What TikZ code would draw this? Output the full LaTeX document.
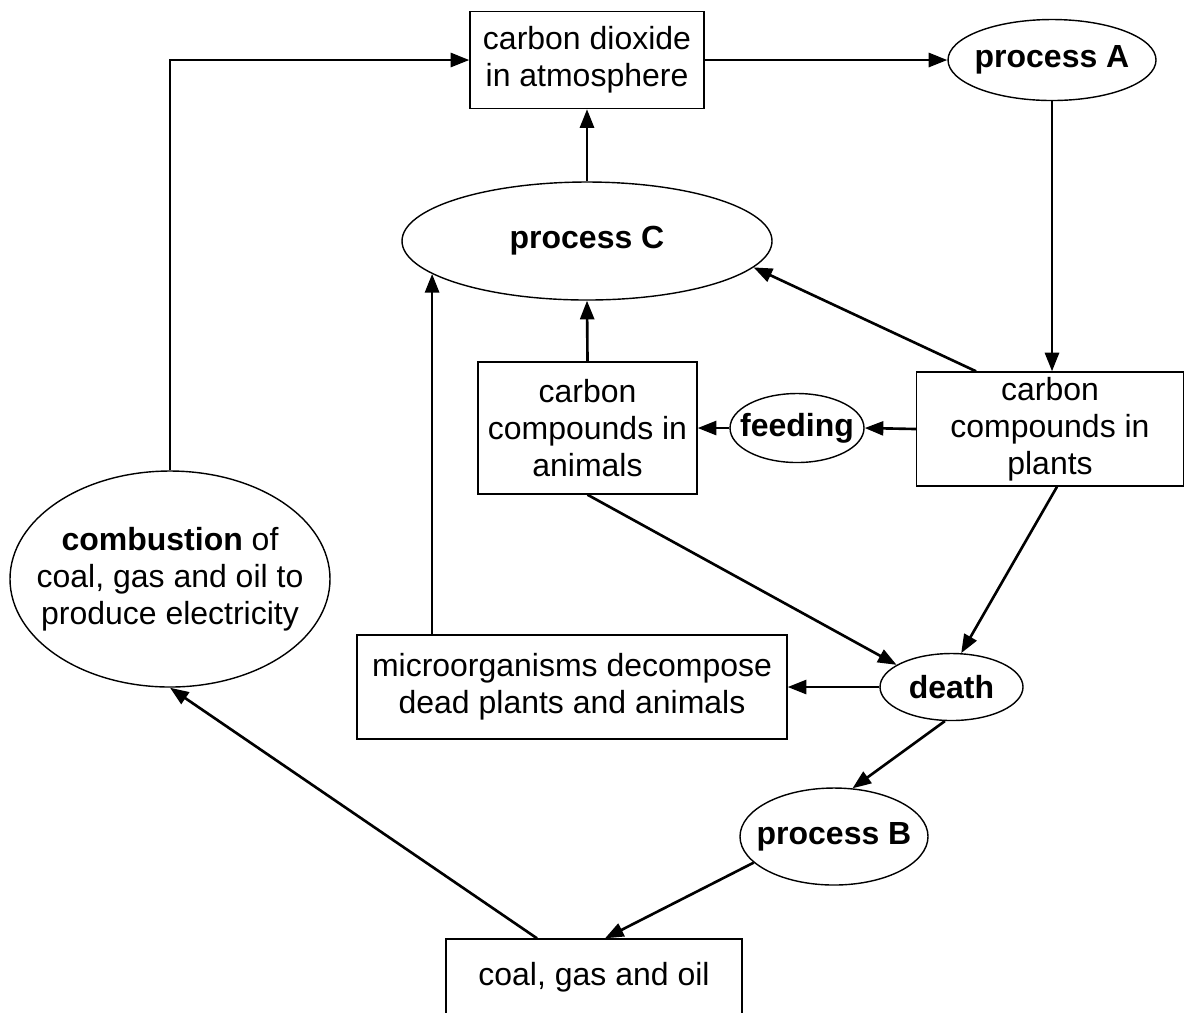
\documentclass[tikz,border=0pt]{standalone}
\usepackage{fontspec}
\setmainfont{Liberation Sans}
\usetikzlibrary{arrows.meta,shapes.geometric}

\begin{document}
\begin{tikzpicture}[
	box/.style={draw, line width=0.4pt, rectangle, inner sep=0pt, align=center},
	oval/.style={draw, line width=0.4pt, ellipse, inner sep=-0.6cm, align=center},
	arr/.style={line width=0.75pt, -{Triangle[length=5.3pt,width=4pt]}},
	font=\fontsize{9.1}{10.5}\selectfont
]
\useasboundingbox (0,0) rectangle (11.84,-10.12);
\node[box, minimum width=2.34cm, minimum height=0.97cm](co2) at (5.87,-0.6) {carbon dioxide\\in atmosphere};
\node[oval, minimum width=2.08cm, minimum height=0.81cm](procA) at (10.52,-0.6) {\textbf{process A}};
\node[oval, minimum width=3.70cm, minimum height=1.18cm](procC) at (5.87,-2.41) {\textbf{process C}};
\node[box, minimum width=2.19cm, minimum height=1.32cm](animals) at (5.875,-4.28) {carbon\\compounds in\\animals};
\node[oval, minimum width=1.34cm, minimum height=0.69cm](feeding) at (7.97,-4.28) {\textbf{feeding}};
\node[box, minimum width=2.665cm, minimum height=1.14cm](plants) at (10.50,-4.29) {carbon\\compounds in\\plants};
\node[oval, minimum width=3.20cm, minimum height=2.16cm](comb) at (1.70,-5.79) {\textbf{combustion} of\\coal, gas and oil to\\produce electricity};
\node[box, minimum width=4.30cm, minimum height=1.04cm](micro) at (5.72,-6.87) {microorganisms decompose\\dead plants and animals};
\node[oval, minimum width=1.43cm, minimum height=0.67cm](death) at (9.515,-6.87) {\textbf{death}};
\node[oval, minimum width=1.88cm, minimum height=0.97cm](procB) at (8.34,-8.365) {\textbf{process B}};
\node[box, minimum width=2.96cm, minimum height=0.76cm](coal) at (5.94,-9.77) {coal, gas and oil};

\draw[arr] (comb.north) |- (co2.west);
\draw[arr] (co2.east) -- (procA.west);
\draw[arr] (procA.south) -- (procA.south |- plants.north);
\draw[arr] (procC.north) -- (co2.south);
\draw[arr] ([xshift=0.6cm]plants.north west) -- (procC.-9);
\draw[arr] (animals.north) -- (procC.south);
\draw[arr] (plants.west) -- (feeding.east);
\draw[arr] (feeding.west) -- (animals.east);
\draw[arr] (micro.north -| procC.192) -- (procC.192);
\draw[arr] (animals.south) -- (death.158);
\draw[arr] ([xshift=0.07cm]plants.south) -- (death.74);
\draw[arr] (death.west) -- (micro.east);
\draw[arr] (death.259) -- (procB.69);
\draw[arr] (procB.198) -- ([xshift=0.11cm]coal.north);
\draw[arr] ([xshift=-0.57cm]coal.north) -- (comb.south);
\end{tikzpicture}
\end{document}
